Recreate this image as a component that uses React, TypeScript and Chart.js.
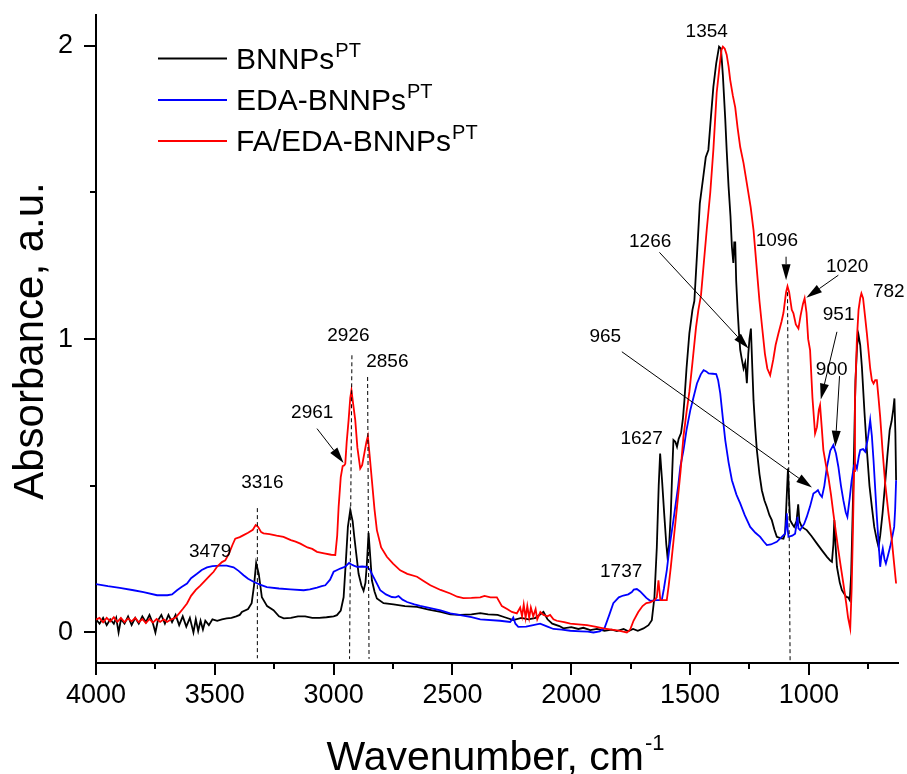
import React, { useEffect, useRef } from "react";
import { Chart, registerables } from "chart.js";

Chart.register(...registerables);

// ---------- axis ticks ----------
const xTickValues = [4000, 3500, 3000, 2500, 2000, 1500, 1000];
const xMinorValues = [3750, 3250, 2750, 2250, 1750, 1250, 750];
const yTickValues = [0, 1, 2];
const yMinorValues = [0.5, 1.5];
const xMin = 625;
const xMax = 4000;
const yMin = -0.104;
const yMax = 2.105;

// ---------- series ----------
const seriesNames = ["BNNPs", "EDA-BNNPs", "FA/EDA-BNNPs"];
const seriesSup = "PT";
const seriesColors = ["#000000", "#0000ff", "#ff0000"];

// [wavenumber, absorbance]
const bnnps: [number, number][] = [
  [4000, 0.045], [3985, 0.03], [3970, 0.05], [3955, 0.025], [3940, 0.045], [3925, 0.03], [3915, 0.05],
  [3905, 0.0], [3895, 0.045], [3880, 0.03], [3865, 0.055], [3850, 0.025], [3835, 0.05], [3820, 0.03],
  [3805, 0.055], [3790, 0.035], [3775, 0.06], [3760, 0.03], [3750, 0.0], [3740, 0.04], [3725, 0.06],
  [3710, 0.03], [3695, 0.06], [3680, 0.035], [3665, 0.06], [3650, 0.025], [3635, 0.055], [3620, 0.02],
  [3605, 0.05], [3590, 0.0], [3580, 0.045], [3570, 0.005], [3560, 0.04], [3550, 0.01], [3540, 0.04],
  [3525, 0.025], [3510, 0.045], [3490, 0.04], [3470, 0.045], [3450, 0.048], [3430, 0.05], [3410, 0.055],
  [3395, 0.06], [3386, 0.07], [3360, 0.08], [3345, 0.1], [3335, 0.16], [3326, 0.237], [3315, 0.2],
  [3302, 0.12], [3280, 0.09], [3253, 0.076], [3230, 0.055], [3210, 0.048], [3180, 0.05], [3150, 0.055],
  [3120, 0.055], [3090, 0.05], [3060, 0.05], [3030, 0.052], [3000, 0.055], [2986, 0.059], [2970, 0.075],
  [2958, 0.12], [2948, 0.25], [2940, 0.36], [2930, 0.417], [2920, 0.38], [2913, 0.326], [2905, 0.27],
  [2895, 0.2], [2883, 0.16], [2874, 0.142], [2866, 0.17], [2860, 0.235], [2853, 0.34], [2846, 0.26],
  [2839, 0.178], [2828, 0.14], [2818, 0.116], [2790, 0.1], [2748, 0.096], [2700, 0.09], [2649, 0.087],
  [2600, 0.078], [2550, 0.07], [2509, 0.062], [2467, 0.06], [2420, 0.062], [2383, 0.066], [2350, 0.062],
  [2310, 0.06], [2280, 0.052], [2244, 0.042], [2210, 0.05], [2180, 0.045], [2150, 0.05], [2117, 0.07],
  [2100, 0.045], [2080, 0.03], [2050, 0.022], [2033, 0.014], [2000, 0.018], [1970, 0.012], [1949, 0.016],
  [1920, 0.008], [1892, 0.012], [1860, 0.006], [1830, 0.01], [1808, 0.005], [1780, 0.012], [1760, 0.004],
  [1740, 0.012], [1720, 0.006], [1696, 0.014], [1675, 0.025], [1661, 0.042],
  [1650, 0.12], [1640, 0.29], [1632, 0.5], [1626, 0.61], [1618, 0.52], [1609, 0.406], [1600, 0.3],
  [1595, 0.258], [1588, 0.3], [1581, 0.406], [1575, 0.55], [1570, 0.656], [1562, 0.65], [1555, 0.633],
  [1548, 0.66], [1538, 0.68], [1530, 0.73], [1524, 0.79], [1515, 0.9], [1503, 1.02], [1490, 1.1],
  [1482, 1.13], [1470, 1.3], [1459, 1.463], [1445, 1.55], [1434, 1.62], [1423, 1.645], [1412, 1.76],
  [1402, 1.86], [1390, 1.94], [1378, 1.997], [1370, 1.99], [1362, 1.9], [1352, 1.75], [1346, 1.645],
  [1338, 1.52], [1330, 1.42], [1324, 1.315], [1318, 1.26], [1314, 1.33], [1310, 1.33], [1306, 1.2],
  [1300, 1.1], [1295, 1.03], [1289, 0.963], [1282, 0.93], [1275, 0.9], [1268, 0.92], [1261, 0.85],
  [1255, 0.95], [1250, 1.0], [1244, 1.036], [1238, 0.9], [1233, 0.792], [1226, 0.7], [1219, 0.622],
  [1208, 0.54], [1198, 0.485], [1187, 0.45], [1177, 0.428], [1166, 0.4], [1156, 0.383], [1145, 0.35],
  [1135, 0.326], [1120, 0.322], [1107, 0.32], [1100, 0.34], [1094, 0.45], [1088, 0.559], [1083, 0.45],
  [1079, 0.383], [1070, 0.37], [1062, 0.36], [1052, 0.38], [1045, 0.437], [1040, 0.38], [1030, 0.36],
  [1009, 0.349], [990, 0.33], [966, 0.303], [945, 0.28], [924, 0.258], [910, 0.245], [903, 0.241],
  [897, 0.3], [893, 0.383], [888, 0.3], [882, 0.224], [870, 0.17], [861, 0.144], [850, 0.13],
  [843, 0.121], [835, 0.12], [828, 0.11], [822, 0.2], [816, 0.4], [810, 0.62], [804, 0.86],
  [797, 0.98], [791, 1.014], [784, 0.98], [777, 0.906], [766, 0.75], [756, 0.622], [745, 0.5],
  [735, 0.428], [725, 0.36], [714, 0.315], [707, 0.292], [700, 0.33], [690, 0.406], [680, 0.5],
  [670, 0.6], [660, 0.69], [652, 0.72], [645, 0.76], [640, 0.798], [636, 0.68], [633, 0.519],
];

const edaBnnps: [number, number][] = [
  [4000, 0.165], [3950, 0.158], [3900, 0.152], [3842, 0.144], [3800, 0.138], [3743, 0.127], [3700, 0.127],
  [3680, 0.13], [3659, 0.144], [3640, 0.155], [3617, 0.167], [3600, 0.185], [3575, 0.2], [3555, 0.213],
  [3533, 0.222], [3510, 0.226], [3477, 0.228], [3450, 0.228], [3421, 0.222], [3400, 0.21], [3379, 0.195],
  [3360, 0.183], [3337, 0.173], [3310, 0.163], [3281, 0.155], [3230, 0.15], [3182, 0.147], [3126, 0.144],
  [3100, 0.147], [3070, 0.153], [3050, 0.158], [3035, 0.161], [3015, 0.18], [3000, 0.207], [2985, 0.213],
  [2972, 0.218], [2950, 0.225], [2935, 0.237], [2925, 0.232], [2915, 0.228], [2902, 0.224], [2880, 0.225],
  [2860, 0.224], [2848, 0.215], [2839, 0.2], [2820, 0.17], [2804, 0.144], [2780, 0.13], [2755, 0.121],
  [2740, 0.12], [2727, 0.124], [2710, 0.112], [2691, 0.104], [2660, 0.096], [2636, 0.091], [2593, 0.083],
  [2550, 0.075], [2509, 0.065], [2467, 0.059], [2420, 0.052], [2383, 0.045], [2300, 0.04], [2257, 0.036],
  [2248, 0.045], [2244, 0.051], [2235, 0.03], [2223, 0.019], [2190, 0.02], [2160, 0.025], [2131, 0.03],
  [2100, 0.02], [2075, 0.012], [2040, 0.01], [2004, 0.006], [1960, 0.004], [1930, 0.003], [1907, 0.0],
  [1880, 0.004], [1860, 0.015], [1840, 0.06], [1823, 0.1], [1800, 0.12], [1781, 0.126], [1760, 0.13],
  [1745, 0.138], [1737, 0.146], [1724, 0.148], [1710, 0.14], [1696, 0.128], [1684, 0.118], [1668, 0.108],
  [1640, 0.11], [1619, 0.11], [1610, 0.15], [1598, 0.212], [1585, 0.3], [1570, 0.383], [1550, 0.5],
  [1541, 0.565], [1528, 0.62], [1515, 0.69], [1499, 0.758], [1486, 0.8], [1471, 0.849], [1455, 0.88],
  [1443, 0.894], [1432, 0.89], [1422, 0.883], [1405, 0.882], [1390, 0.881], [1382, 0.86], [1373, 0.815],
  [1362, 0.73], [1352, 0.656], [1338, 0.58], [1324, 0.519], [1305, 0.47], [1289, 0.44], [1270, 0.4],
  [1247, 0.36], [1225, 0.34], [1205, 0.326], [1190, 0.31], [1177, 0.298], [1160, 0.3], [1135, 0.309],
  [1115, 0.325], [1100, 0.337], [1095, 0.38], [1093, 0.406], [1089, 0.35], [1086, 0.326], [1070, 0.33],
  [1058, 0.337], [1050, 0.38], [1048, 0.394], [1044, 0.355], [1037, 0.349], [1020, 0.37], [1009, 0.394],
  [995, 0.43], [981, 0.474], [970, 0.48], [962, 0.485], [953, 0.47], [945, 0.462], [935, 0.5],
  [924, 0.565], [910, 0.62], [897, 0.639], [886, 0.61], [876, 0.565], [865, 0.5], [855, 0.451],
  [845, 0.41], [838, 0.394], [828, 0.46], [820, 0.519], [810, 0.57], [806, 0.576], [798, 0.559],
  [790, 0.6], [784, 0.622], [772, 0.625], [763, 0.616], [752, 0.66], [742, 0.724], [735, 0.67],
  [728, 0.587], [714, 0.394], [700, 0.224], [695, 0.26], [689, 0.286], [682, 0.25], [676, 0.235],
  [668, 0.26], [658, 0.292], [648, 0.33], [641, 0.36], [637, 0.42], [633, 0.519],
];

const faEdaBnnps: [number, number][] = [
  [4000, 0.044], [3985, 0.05], [3970, 0.035], [3955, 0.05], [3940, 0.038], [3925, 0.052], [3910, 0.036],
  [3895, 0.05], [3880, 0.035], [3865, 0.048], [3850, 0.038], [3835, 0.05], [3820, 0.035], [3805, 0.046],
  [3790, 0.032], [3775, 0.046], [3760, 0.034], [3745, 0.046], [3730, 0.036], [3715, 0.045], [3701, 0.036],
  [3685, 0.044], [3666, 0.05], [3650, 0.065], [3635, 0.08], [3617, 0.099], [3600, 0.125],
  [3580, 0.145], [3561, 0.16], [3540, 0.178], [3520, 0.195], [3505, 0.207], [3490, 0.225], [3470, 0.24],
  [3456, 0.246], [3440, 0.27], [3425, 0.3], [3414, 0.32], [3395, 0.325], [3379, 0.332], [3360, 0.34],
  [3340, 0.35], [3328, 0.366], [3318, 0.36], [3305, 0.342], [3295, 0.338], [3270, 0.335], [3240, 0.33],
  [3211, 0.326], [3180, 0.315], [3160, 0.31], [3140, 0.303], [3110, 0.29], [3090, 0.285], [3070, 0.275],
  [3040, 0.27], [3010, 0.265], [2993, 0.264], [2985, 0.33], [2979, 0.428], [2970, 0.53], [2962, 0.567],
  [2955, 0.57], [2951, 0.575], [2945, 0.65], [2937, 0.724], [2930, 0.8], [2925, 0.826], [2918, 0.78],
  [2909, 0.724], [2900, 0.63], [2888, 0.559], [2880, 0.57], [2871, 0.61], [2862, 0.65], [2856, 0.669],
  [2848, 0.6], [2839, 0.519], [2828, 0.42], [2818, 0.349], [2800, 0.29], [2776, 0.258], [2750, 0.235],
  [2720, 0.212], [2690, 0.2], [2649, 0.19], [2620, 0.175], [2593, 0.161], [2550, 0.145], [2509, 0.133],
  [2480, 0.122], [2454, 0.117], [2420, 0.118], [2383, 0.12], [2365, 0.125], [2340, 0.12], [2313, 0.12],
  [2292, 0.09], [2270, 0.08], [2250, 0.07], [2229, 0.065], [2215, 0.085], [2207, 0.055], [2200, 0.095],
  [2192, 0.05], [2185, 0.09], [2177, 0.05], [2170, 0.085], [2160, 0.055], [2150, 0.08], [2143, 0.045],
  [2130, 0.07], [2117, 0.06], [2100, 0.055], [2089, 0.06], [2075, 0.045], [2061, 0.04], [2030, 0.035],
  [2004, 0.03], [1970, 0.028], [1934, 0.025], [1900, 0.02], [1865, 0.014], [1830, 0.01], [1800, 0.006],
  [1766, 0.0], [1752, 0.01], [1738, 0.04], [1718, 0.07], [1700, 0.09], [1684, 0.1], [1668, 0.103],
  [1650, 0.11], [1640, 0.12], [1633, 0.178], [1625, 0.11], [1619, 0.11], [1598, 0.11], [1590, 0.16],
  [1581, 0.224], [1570, 0.31], [1555, 0.428], [1540, 0.55], [1528, 0.667], [1515, 0.75], [1503, 0.82],
  [1490, 0.92], [1475, 1.04], [1465, 1.1], [1454, 1.15], [1440, 1.28], [1430, 1.372], [1415, 1.5],
  [1402, 1.645], [1388, 1.84], [1376, 1.93], [1368, 1.985], [1362, 1.997], [1354, 1.99], [1346, 1.97],
  [1338, 1.93], [1331, 1.883], [1320, 1.83], [1310, 1.79], [1300, 1.72], [1289, 1.655], [1275, 1.6],
  [1261, 1.53], [1245, 1.45], [1233, 1.372], [1219, 1.236], [1208, 1.13], [1198, 1.05], [1185, 0.95],
  [1175, 0.9], [1163, 0.877], [1150, 0.93], [1140, 0.98], [1128, 1.02], [1115, 1.06], [1107, 1.09],
  [1096, 1.16], [1090, 1.18], [1083, 1.16], [1072, 1.1], [1065, 1.088], [1055, 1.05], [1044, 1.036],
  [1035, 1.08], [1025, 1.12], [1018, 1.139], [1010, 1.09], [1003, 1.0], [995, 0.963], [985, 0.8],
  [974, 0.678], [966, 0.7], [958, 0.76], [953, 0.775], [946, 0.7], [939, 0.622], [928, 0.57],
  [918, 0.53], [907, 0.47], [897, 0.406], [886, 0.34], [876, 0.281], [865, 0.22], [855, 0.167],
  [843, 0.1], [835, 0.05], [826, 0.014], [820, 0.15], [815, 0.337], [810, 0.55], [806, 0.79],
  [798, 1.0], [791, 1.1], [784, 1.14], [779, 1.156], [772, 1.14], [764, 1.08], [756, 1.02],
  [742, 0.9], [735, 0.86], [728, 0.849], [721, 0.86], [714, 0.86], [707, 0.8], [700, 0.735],
  [690, 0.62], [679, 0.508], [665, 0.406], [651, 0.315], [642, 0.24], [633, 0.167],
];

const seriesData = [bnnps, edaBnnps, faEdaBnnps];

// ---------- annotations (data coordinates) ----------
const peakLabels = ["1354", "1266", "1096", "1020", "782", "951", "900", "965", "1627", "1737", "3479", "3316", "2961", "2926", "2856"];
const peakLabelWn = [1430, 1668, 1135, 839, 664, 875, 904, 1857, 1704, 1790, 3520, 3300, 3090, 2938, 2774];
const peakLabelAbs = [2.054, 1.338, 1.341, 1.251, 1.167, 1.089, 0.901, 1.015, 0.666, 0.211, 0.281, 0.516, 0.755, 1.017, 0.928];

// arrows: [fromWn, fromAbs, tipWn, tipAbs]
const arrows: [number, number, number, number][] = [
  [3070, 0.695, 2958, 0.578],
  [1629, 1.296, 1254, 0.968],
  [1096, 1.281, 1096, 1.201],
  [876, 1.218, 1011, 1.141],
  [882, 1.025, 950, 0.794],
  [871, 0.874, 889, 0.633],
  [1787, 0.957, 987, 0.494],
];

// dashed markers: [topWn, topAbs, bottomWn, bottomAbs]
const dashMarkers: [number, number, number, number][] = [
  [3321, 0.424, 3321, -0.088],
  [2923, 0.945, 2933, -0.09],
  [2857, 0.871, 2851, -0.09],
  [1090, 1.16, 1079, -0.1],
];

const xTitle = "Wavenumber, cm";
const xTitleSup = "-1";
const yTitle = "Absorbance, a.u.";

const FONT = "'Liberation Sans', Arial, Helvetica, sans-serif";

const overlayPlugin = {
  id: "overlay",
  afterDatasetsDraw(chart: any) {
    const ctx: CanvasRenderingContext2D = chart.ctx;
    const xs = chart.scales.x;
    const ys = chart.scales.y;
    const X = (v: number) => xs.getPixelForValue(v);
    const Y = (v: number) => ys.getPixelForValue(v);
    const area = chart.chartArea;
    ctx.save();

    // minor ticks
    ctx.strokeStyle = "#000";
    ctx.lineWidth = 2;
    ctx.beginPath();
    xMinorValues.forEach((v) => {
      const px = Math.round(X(v));
      ctx.moveTo(px, area.bottom);
      ctx.lineTo(px, area.bottom + 6);
    });
    yMinorValues.forEach((v) => {
      const py = Math.round(Y(v));
      ctx.moveTo(area.left, py);
      ctx.lineTo(area.left - 6, py);
    });
    ctx.stroke();

    // dashed markers
    ctx.lineWidth = 1;
    ctx.setLineDash([4, 3]);
    dashMarkers.forEach(([w1, a1, w2, a2]) => {
      ctx.beginPath();
      ctx.moveTo(X(w1), Y(a1));
      ctx.lineTo(X(w2), Y(a2));
      ctx.stroke();
    });
    ctx.setLineDash([]);

    // arrows
    ctx.fillStyle = "#000";
    arrows.forEach(([w1, a1, w2, a2]) => {
      const x1 = X(w1), y1 = Y(a1), x2 = X(w2), y2 = Y(a2);
      const dx = x2 - x1, dy = y2 - y1;
      const len = Math.hypot(dx, dy);
      const ux = dx / len, uy = dy / len;
      const head = 16, half = 4.5;
      const bx = x2 - ux * head, by = y2 - uy * head;
      ctx.beginPath();
      ctx.moveTo(x1, y1);
      ctx.lineTo(bx, by);
      ctx.stroke();
      ctx.beginPath();
      ctx.moveTo(x2, y2);
      ctx.lineTo(bx - uy * half, by + ux * half);
      ctx.lineTo(bx + uy * half, by - ux * half);
      ctx.closePath();
      ctx.fill();
    });

    // peak labels
    const lf = 19;
    ctx.font = `${lf}px ${FONT}`;
    ctx.textAlign = "center";
    ctx.textBaseline = "alphabetic";
    peakLabels.forEach((t, i) => {
      ctx.fillText(t, X(peakLabelWn[i]), Y(peakLabelAbs[i]) + lf * 0.358);
    });

    // legend
    const legX0 = 158, legX1 = 227, textX = 236;
    const rowBase = [68.5, 110, 151];
    seriesNames.forEach((name, i) => {
      ctx.strokeStyle = seriesColors[i];
      ctx.lineWidth = 1.8;
      ctx.beginPath();
      ctx.moveTo(legX0, rowBase[i] - 10);
      ctx.lineTo(legX1, rowBase[i] - 10);
      ctx.stroke();
      ctx.fillStyle = "#000";
      ctx.textAlign = "left";
      ctx.font = `30px ${FONT}`;
      ctx.fillText(name, textX, rowBase[i]);
      const w = ctx.measureText(name).width;
      ctx.font = `20px ${FONT}`;
      ctx.fillText(seriesSup, textX + w + 1, rowBase[i] - 12);
    });

    // x title
    ctx.fillStyle = "#000";
    ctx.textAlign = "left";
    ctx.font = `41px ${FONT}`;
    const w1 = ctx.measureText(xTitle).width;
    ctx.font = `22px ${FONT}`;
    const w2 = ctx.measureText(xTitleSup).width;
    const cx = (area.left + area.right) / 2 - 2;
    const startX = cx - (w1 + w2) / 2;
    ctx.font = `41px ${FONT}`;
    ctx.fillText(xTitle, startX, 770);
    ctx.font = `22px ${FONT}`;
    ctx.fillText(xTitleSup, startX + w1 + 1, 750);

    // y title
    ctx.save();
    ctx.translate(43, (area.top + area.bottom) / 2 + 2);
    ctx.rotate(-Math.PI / 2);
    ctx.textAlign = "center";
    ctx.font = `42px ${FONT}`;
    ctx.fillText(yTitle, 0, 0);
    ctx.restore();

    ctx.restore();
  },
};

export default function App() {
  const canvasRef = useRef<HTMLCanvasElement | null>(null);

  useEffect(() => {
    const canvas = canvasRef.current;
    if (!canvas) return;
    const order = [2, 1, 0];
    const chart = new Chart(canvas, {
      type: "line",
      data: {
        datasets: seriesData.map((pts, i) => ({
          label: seriesNames[i],
          data: pts.map(([x, y]) => ({ x, y })),
          borderColor: seriesColors[i],
          backgroundColor: seriesColors[i],
          borderWidth: 1.8,
          pointRadius: 0,
          tension: 0,
          fill: false,
          order: order[i],
        })),
      },
      options: {
        animation: false,
        responsive: false,
        devicePixelRatio: 1,
        layout: { padding: { top: 15, right: 9, left: 0, bottom: 0 } },
        plugins: {
          legend: { display: false },
          tooltip: { enabled: false },
          title: { display: false },
        },
        scales: {
          x: {
            type: "linear",
            reverse: true,
            min: xMin,
            max: xMax,
            afterBuildTicks: (s: any) => {
              s.ticks = xTickValues.map((v) => ({ value: v }));
            },
            afterFit: (s: any) => {
              s.height = 111;
              s.paddingLeft = 0;
              s.paddingRight = 0;
            },
            border: { display: true, color: "#000", width: 2 },
            grid: {
              display: true,
              drawOnChartArea: false,
              drawTicks: true,
              tickLength: 12,
              color: "#000",
              lineWidth: 2,
            },
            ticks: {
              color: "#000",
              font: { family: FONT, size: 27 },
              padding: 4,
              maxRotation: 0,
              autoSkip: false,
              callback: (v: any) => String(v),
            },
          },
          y: {
            type: "linear",
            min: yMin,
            max: yMax,
            afterBuildTicks: (s: any) => {
              s.ticks = yTickValues.map((v) => ({ value: v }));
            },
            afterFit: (s: any) => {
              s.width = 96;
              s.paddingTop = 0;
              s.paddingBottom = 0;
            },
            border: { display: true, color: "#000", width: 2 },
            grid: {
              display: true,
              drawOnChartArea: false,
              drawTicks: true,
              tickLength: 12,
              color: "#000",
              lineWidth: 2,
            },
            ticks: {
              color: "#000",
              font: { family: FONT, size: 27 },
              padding: 11,
              autoSkip: false,
              callback: (v: any) => String(v),
            },
          },
        },
      },
      plugins: [overlayPlugin],
    } as any);
    return () => chart.destroy();
  }, []);

  return (
    <div style={{ position: "absolute", left: 0, top: 0, width: 907, height: 774, background: "#fff" }}>
      <canvas ref={canvasRef} width={907} height={774} style={{ display: "block", width: 907, height: 774 }} />
    </div>
  );
}
